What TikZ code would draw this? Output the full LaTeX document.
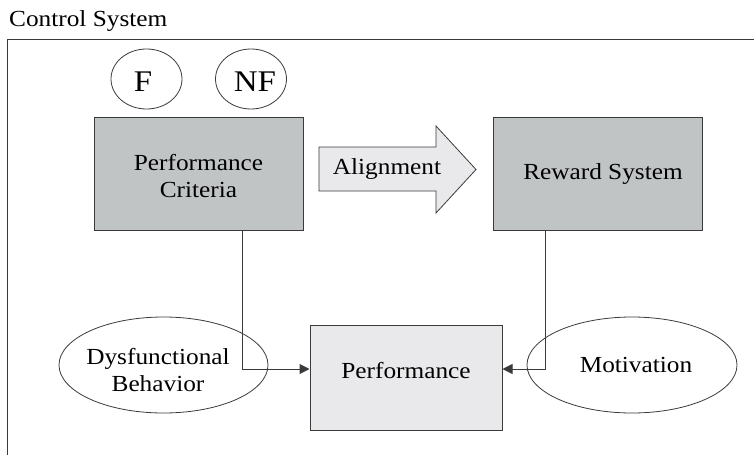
\documentclass[tikz,border=0pt]{standalone}
\usepackage{fontspec}
\setmainfont[FakeStretch=1.1]{Liberation Serif}
\usetikzlibrary{arrows.meta,shapes.geometric,shapes.arrows}
\definecolor{darkfill}{HTML}{C1C4C5}
\definecolor{lightfill}{HTML}{E9E9EB}
\definecolor{edge}{HTML}{3A3A3A}
\begin{document}
\begin{tikzpicture}[x=1pt,y=-1pt,
  txt/.style={font=\fontsize{23}{27}\selectfont, align=center, inner sep=0pt},
  bigtxt/.style={font=\fontsize{30}{34}\selectfont, inner sep=0pt},
  darkbox/.style={draw=edge, line width=1pt, fill=darkfill},
  lightbox/.style={draw=edge, line width=1pt, fill=lightfill},
  oval/.style={draw=edge, line width=0.8pt, ellipse},
  conn/.style={draw=edge, line width=1pt, -{Triangle[length=10pt,width=10pt]}}]
\useasboundingbox (0,0) rectangle (754,455);
% title and frame
\node[txt, anchor=base west] (title) at (9,27) {Control System};
\coordinate (ftl) at (7,39);
\coordinate (ftr) at (754,39);
\coordinate (fbl) at (7,455);
\draw[edge, line width=1pt] (fbl) -- (ftl) -- (ftr);
% F / NF
\node[oval, minimum width=71pt, minimum height=60pt, inner sep=0pt] (F) at (146.5,79) {};
\node[bigtxt] at (143,82) {F};
\node[oval, minimum width=71pt, minimum height=60pt, inner sep=0pt] (NF) at (251,79) {};
\node[bigtxt] at (255,82) {NF};
% boxes
\node[darkbox, minimum width=209pt, minimum height=113pt, inner sep=0pt] (pc) at (198.5,174) {};
\node[txt] at (198.5,176) {Performance\\Criteria};
\node[darkbox, minimum width=209pt, minimum height=113pt, inner sep=0pt] (rs) at (597.5,173.5) {};
\node[txt] at (603,174) {Reward System};
\node[lightbox, minimum width=192pt, minimum height=105pt, inner sep=0pt] (perf) at (406,377.5) {};
\node[txt] at (406,371) {Performance};
% alignment arrow
\draw[draw=edge, line width=0.8pt, fill=lightfill]
  (319,147) -- (436,147) -- (436,126) -- (476,169.5) -- (436,213) -- (436,191) -- (319,191) -- cycle;
\node[txt] (al) at (387,169) {Alignment};
% ellipses
\node[oval, minimum width=209pt, minimum height=96pt, inner sep=0pt] (dys) at (163.5,365) {};
\node[txt] at (158,370) {Dysfunctional\\Behavior};
\node[oval, minimum width=210pt, minimum height=96pt, inner sep=0pt] (mot) at (632,365) {};
\node[txt] at (636,365) {Motivation};
% connectors
\coordinate (c1) at (242,369);
\coordinate (c2) at (545,369);
\draw[conn] (pc.south -| c1) -- (c1) -- (perf.west |- c1);
\draw[conn] (rs.south -| c2) -- (c2) -- (perf.east |- c2);
\end{tikzpicture}
\end{document}
